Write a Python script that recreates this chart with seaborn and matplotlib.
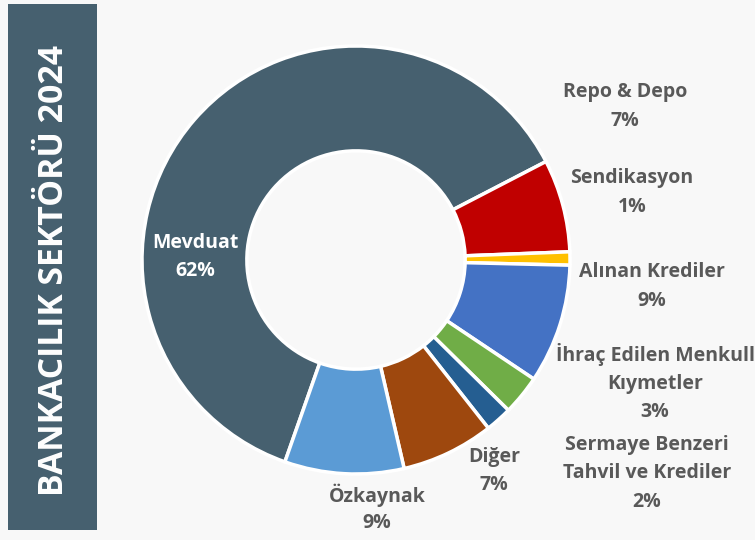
import matplotlib
matplotlib.use("Agg")
import matplotlib.pyplot as plt
import seaborn as sns
from matplotlib.patches import Rectangle

# Funding structure of the banking sector, 2024 (shares in %)
categories = [
    "Mevduat",
    "Repo & Depo",
    "Sendikasyon",
    "Alınan Krediler",
    "İhraç Edilen Menkull\nKıymetler",
    "Sermaye Benzeri\nTahvil ve Krediler",
    "Diğer",
    "Özkaynak",
]
shares = [62, 7, 1, 9, 3, 2, 7, 9]
colors = ["#46606F", "#C00000", "#FFC000", "#4472C4",
          "#70AD47", "#255E91", "#9E480E", "#5B9BD5"]
title = "BANKACILIK SEKTÖRÜ 2024"

sns.set_theme(style="white")
plt.rcParams["font.family"] = ["Open Sans", "DejaVu Sans"]

bg = "#F8F8F8"
fig = plt.figure(figsize=(7.55, 5.4), dpi=100, facecolor=bg)

# vertical title banner on the left
fig.patches.append(Rectangle((8 / 755, 10 / 540), 89 / 755, 526 / 540,
                             transform=fig.transFigure, facecolor="#46606F",
                             edgecolor="none", zorder=0))
fig.text(54 / 755, 1 - 271 / 540, title, rotation=90, color="white",
         fontsize=24.3, fontweight="bold", ha="center", va="center")

# donut
ax = fig.add_axes([142 / 755, 1 - 474 / 540, 428 / 755, 428 / 540])
ax.set_facecolor("none")
ax.pie(shares, colors=colors, startangle=250.6, counterclock=False,
       radius=1.0,
       wedgeprops=dict(width=0.49, edgecolor="white", linewidth=2.5))
ax.set_xlim(-1, 1)
ax.set_ylim(-1, 1)
ax.set_aspect("equal")
ax.axis("off")

# label placement (pixel centres of the first line)
label_pos = {
    "Mevduat": (195, 243),
    "Repo & Depo": (625, 92),
    "Sendikasyon": (632, 178),
    "Alınan Krediler": (652, 272),
    "İhraç Edilen Menkull\nKıymetler": (655, 355),
    "Sermaye Benzeri\nTahvil ve Krediler": (647, 445),
    "Diğer": (494, 457),
    "Özkaynak": (377, 495),
}
line_h = 28.5
for cat, val in zip(categories, shares):
    x, y = label_pos[cat]
    lines = cat.split("\n") + [f"{val}%"]
    color = "white" if cat == "Mevduat" else "#595959"
    for i, ln in enumerate(lines):
        fig.text(x / 755, 1 - (y + i * line_h) / 540, ln, ha="center",
                 va="center", fontsize=14, fontweight="bold", color=color)

fig.savefig("out.png", dpi=100, facecolor=bg)
